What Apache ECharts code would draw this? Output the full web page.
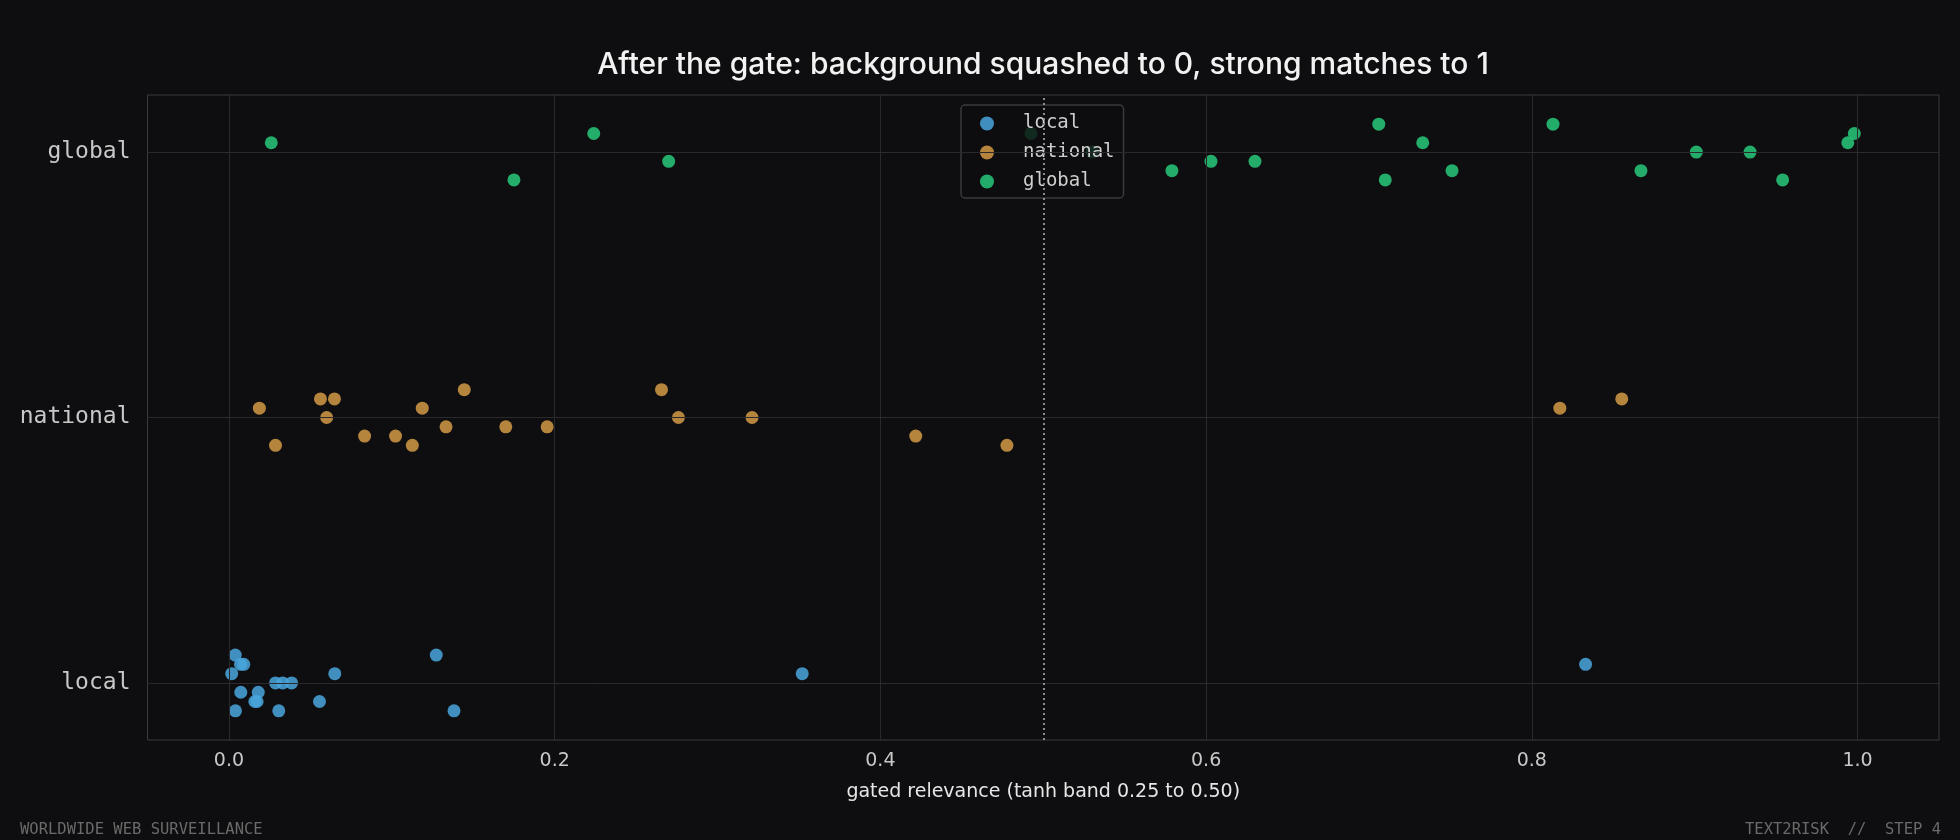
<!DOCTYPE html>
<html lang="en">
<head>
    <meta charset="UTF-8">
    <title>After the gate</title>
    <script src="https://cdn.jsdelivr.net/npm/echarts@6/dist/echarts.min.js"></script>
    <style>
        html, body { margin: 0; padding: 0; background: #0e0e10; }
        #main { width: 1960px; height: 840px; }
    </style>
</head>
<body>
    <div id="main"></div>
    <script>
        // categories on the y axis (bottom to top)
        var categories = ['local', 'national', 'global'];
        var xTicks = [0, 0.2, 0.4, 0.6, 0.8, 1.0];
        var gateLine = 0.5;
        var jitterStep = 0.035;

        // gated relevance per item, and its jitter row (-3..3)
        var localX   = [0.0039, 0.0071, 0.0091, 0.0017, 0.0073, 0.018, 0.0159, 0.0173, 0.004, 0.0286,
                        0.033, 0.0385, 0.0306, 0.0556, 0.065, 0.1273, 0.1382, 0.352, 0.833];
        var localJ   = [3, 2, 2, 1, -1, -1, -2, -2, -3, 0,
                        0, 0, -3, -2, 1, 3, -3, 1, 2];
        var nationalX = [0.0187, 0.0286, 0.0562, 0.0648, 0.060, 0.0833, 0.1023, 0.1126, 0.1187, 0.1333,
                         0.1445, 0.170, 0.1954, 0.2656, 0.276, 0.3212, 0.4217, 0.4777, 0.8172, 0.8552];
        var nationalJ = [1, -3, 2, 2, 0, -2, -2, -3, 1, -1,
                         3, -1, -1, 3, 0, 0, -2, -3, 1, 2];
        var globalX  = [0.026, 0.175, 0.224, 0.270, 0.4925, 0.530, 0.579, 0.603, 0.630, 0.706,
                        0.710, 0.733, 0.751, 0.813, 0.867, 0.901, 0.934, 0.954, 0.994, 0.998];
        var globalJ  = [1, -3, 2, -1, 2, 0, -2, -1, -1, 3,
                        -3, 1, -2, 3, -2, 0, 0, -3, 1, 2];

        var colors = ['#49a6dd', '#d39a45', '#27c87a'];

        function points(xs, js, row) {
            var out = [];
            for (var i = 0; i < xs.length; i++) {
                out.push([xs[i], row + js[i] * jitterStep]);
            }
            return out;
        }

        var myChart = echarts.init(document.getElementById('main'));
        var option = {
            backgroundColor: '#0e0e10',
            animation: false,
            title: {
                text: 'After the gate: background squashed to 0, strong matches to 1',
                left: 1043,
                top: 50,
                padding: 0,
                textAlign: 'center',
                textStyle: { color: '#f2f2f2', fontFamily: 'Inter', fontWeight: 500, fontSize: 30 }
            },
            legend: {
                data: categories,
                orient: 'vertical',
                left: 961,
                top: 105,
                padding: [9, 9, 7, 19],
                itemWidth: 14,
                itemHeight: 14,
                itemGap: 10,
                icon: 'circle',
                backgroundColor: 'rgba(14,14,16,0.82)',
                borderColor: '#3a3a3a',
                borderWidth: 1.5,
                borderRadius: 4,
                textStyle: { color: '#cfcfcf', fontFamily: 'DejaVu Sans Mono', fontSize: 19, padding: [0, 0, 0, 24] }
            },
            grid: {
                left: 147.5, right: 21, top: 95, bottom: 100,
                show: true, borderColor: '#3a3a3a', borderWidth: 1
            },
            xAxis: {
                type: 'value',
                min: -0.05,
                max: 1.05,
                name: 'gated relevance (tanh band 0.25 to 0.50)',
                nameLocation: 'middle',
                nameGap: 43,
                nameTextStyle: { color: '#e6e6e6', fontFamily: 'DejaVu Sans', fontSize: 19 },
                axisLine: { lineStyle: { color: '#3a3a3a' } },
                axisTick: { show: true, length: 6, customValues: xTicks, lineStyle: { color: '#bbbbbb' } },
                axisLabel: {
                    customValues: xTicks, margin: 12,
                    color: '#c8c8c8', fontFamily: 'DejaVu Sans', fontSize: 19,
                    formatter: function (v) { return v.toFixed(1); }
                },
                splitLine: { show: false }
            },
            yAxis: {
                type: 'value',
                min: -0.215,
                max: 2.215,
                axisLine: { show: true, lineStyle: { color: '#3a3a3a' } },
                axisTick: { show: true, length: 6, customValues: [0, 1, 2], lineStyle: { color: '#bbbbbb' } },
                axisLabel: {
                    customValues: [0, 1, 2], margin: 17,
                    padding: [7, 0, 0, 0],
                    color: '#c8c8c8', fontFamily: 'DejaVu Sans Mono', fontSize: 23,
                    formatter: function (v) { return categories[Math.round(v)] || ''; }
                },
                splitLine: { show: false }
            },
            series: [
                {
                    // grid lines at the tick positions
                    type: 'line', data: [], silent: true,
                    markLine: {
                        silent: true, symbol: 'none', label: { show: false },
                        lineStyle: { color: '#2a2a2c', width: 1, type: 'solid' },
                        data: xTicks.map(function (v) { return { xAxis: v }; })
                            .concat([0, 1, 2].map(function (v) { return { yAxis: v }; }))
                    }
                },
                {
                    name: 'local', type: 'scatter', symbolSize: 13,
                    itemStyle: { color: colors[0], opacity: 0.85 },
                    data: points(localX, localJ, 0),
                    z: 3
                },
                {
                    name: 'national', type: 'scatter', symbolSize: 13,
                    itemStyle: { color: colors[1], opacity: 0.85 },
                    data: points(nationalX, nationalJ, 1),
                    z: 3
                },
                {
                    name: 'global', type: 'scatter', symbolSize: 13,
                    itemStyle: { color: colors[2], opacity: 0.85 },
                    data: points(globalX, globalJ, 2),
                    z: 3,
                    markLine: {
                        silent: true, symbol: 'none', label: { show: false },
                        lineStyle: { color: '#8c8c8c', width: 2, type: [2, 3] },
                        data: [{ xAxis: gateLine }]
                    }
                }
            ],
            graphic: [
                {
                    type: 'text', left: 20, top: 822,
                    style: { text: 'WORLDWIDE WEB SURVEILLANCE', fill: '#6a6a6a', font: '15.5px "DejaVu Sans Mono"' }
                },
                {
                    type: 'text', right: 19, top: 822,
                    style: { text: 'TEXT2RISK  //  STEP 4', fill: '#6a6a6a', font: '15.5px "DejaVu Sans Mono"' }
                }
            ]
        };
        myChart.setOption(option);
    </script>
</body>
</html>
